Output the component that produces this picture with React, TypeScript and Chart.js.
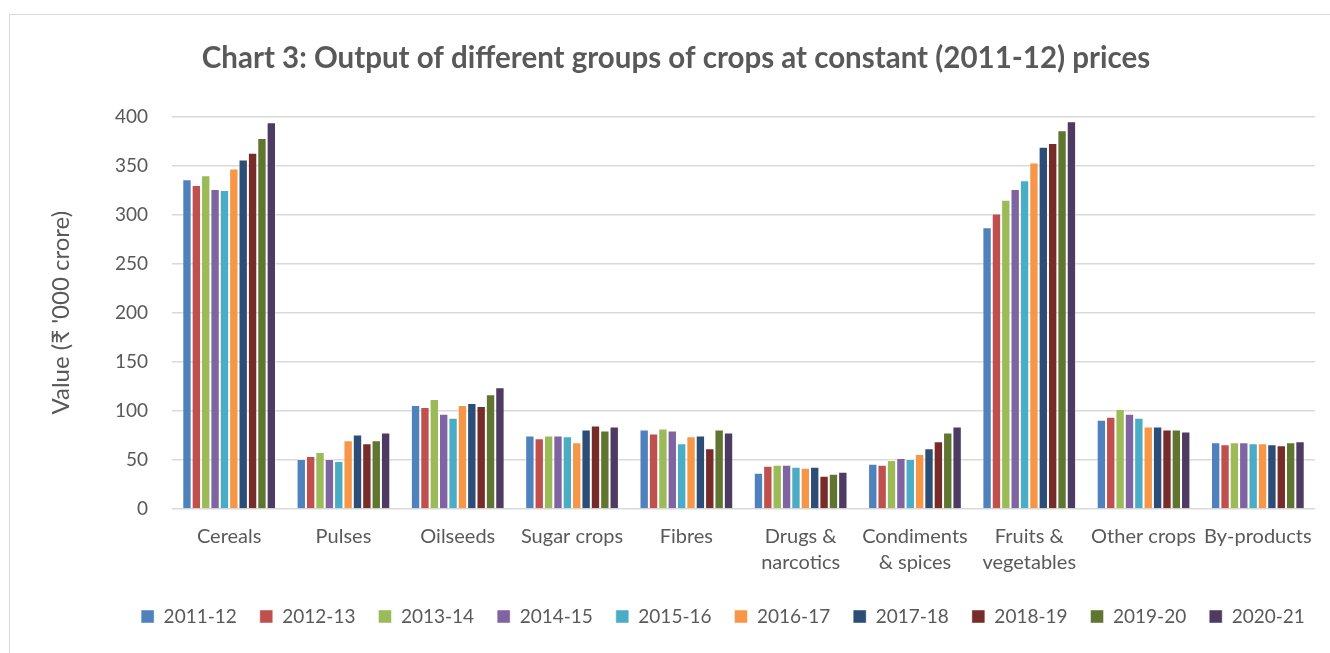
import React, { useEffect, useRef } from "react";
import { Chart, registerables } from "chart.js";

Chart.register(...registerables);

const categories: (string | string[])[] = [
  "Cereals",
  "Pulses",
  "Oilseeds",
  "Sugar crops",
  "Fibres",
  ["Drugs &", "narcotics"],
  ["Condiments", "& spices"],
  ["Fruits &", "vegetables"],
  "Other crops",
  "By-products",
];

const years = ["2011-12", "2012-13", "2013-14", "2014-15", "2015-16", "2016-17", "2017-18", "2018-19", "2019-20", "2020-21"];

const colors = ["#4F81BD", "#C0504D", "#9BBB59", "#8064A2", "#4BACC6", "#F79646", "#2C4D75", "#772C2A", "#5F7530", "#4D3B62"];

// values per year, across categories (₹ '000 crore)
const v2011 = [336, 51, 106, 75, 81, 37, 46, 287, 91, 68];
const v2012 = [330, 54, 104, 72, 77, 44, 45, 301, 94, 66];
const v2013 = [340, 58, 112, 75, 82, 45, 50, 315, 102, 68];
const v2014 = [326, 51, 97, 75, 80, 45, 52, 326, 97, 68];
const v2015 = [325, 49, 93, 74, 67, 43, 51, 335, 93, 67];
const v2016 = [347, 70, 106, 68, 74, 42, 56, 353, 84, 67];
const v2017 = [356, 76, 108, 81, 75, 43, 62, 369, 84, 66];
const v2018 = [363, 67, 105, 85, 62, 34, 69, 373, 81, 65];
const v2019 = [378, 70, 117, 80, 81, 36, 78, 386, 81, 68];
const v2020 = [394, 78, 124, 84, 78, 38, 84, 395, 79, 69];

const seriesValues = [v2011, v2012, v2013, v2014, v2015, v2016, v2017, v2018, v2019, v2020];

const yTicksMax = 400;
const yTicksStep = 50;

const FONT = "Lato, 'Open Sans', sans-serif";

const legendShift = {
  id: "legendShift",
  afterLayout(chart: any) {
    const l = chart.legend;
    if (!l) return;
    const dx = 47;
    const dy = -7;
    l.left += dx;
    l.right += dx;
    l.top += dy;
    l.bottom += dy;
  },
};

export default function App() {
  const ref = useRef<HTMLCanvasElement | null>(null);

  useEffect(() => {
    if (!ref.current) return;
    const chart = new Chart(ref.current, {
      type: "bar",
      data: {
        labels: categories,
        datasets: years.map((y, i) => ({
          label: y,
          data: seriesValues[i],
          backgroundColor: colors[i],
          borderColor: "rgba(255,255,255,0.45)",
          borderWidth: 1,
          categoryPercentage: 0.82,
          barPercentage: 1.0,
        })),
      },
      options: {
        responsive: false,
        animation: false,
        layout: { padding: { left: 27, right: 15, top: 26, bottom: 11 } },
        plugins: {
          title: {
            display: true,
            text: "Chart 3: Output of different groups of crops at constant (2011-12) prices",
            color: "#595959",
            font: { family: FONT, size: 29.5, weight: "bold" },
            padding: { top: 0, bottom: 40 },
          },
          legend: {
            position: "bottom",
            labels: {
              color: "#595959",
              font: { family: FONT, size: 19 },
              boxWidth: 13,
              boxHeight: 13,
              padding: 23,
            },
          },
          tooltip: { enabled: false },
        },
        scales: {
          x: {
            grid: { display: false, drawTicks: false },
            border: { display: false },
            ticks: {
              color: "#595959",
              font: { family: FONT, size: 20, lineHeight: 1.3 },
              padding: 15,
              maxRotation: 0,
              autoSkip: false,
            },
          },
          y: {
            min: 0,
            max: yTicksMax,
            afterFit(scale: any) {
              scale.width = 135;
            },
            ticks: {
              stepSize: yTicksStep,
              color: "#595959",
              font: { family: FONT, size: 19 },
              padding: 24,
            },
            grid: { color: "#d9d9d9", lineWidth: 1.5, drawTicks: false },
            border: { display: false },
            title: {
              display: true,
              text: "Value (₹ '000 crore)",
              color: "#595959",
              font: { family: FONT, size: 24 },
              padding: { top: 10, bottom: 0 },
            },
          },
        },
      },
      plugins: [legendShift],
    });
    return () => chart.destroy();
  }, []);

  return (
    <div style={{ position: "fixed", left: 0, top: 0, width: 1330, height: 653, overflow: "hidden", background: "#fff" }}>
      <div
        style={{
          position: "absolute",
          left: 9,
          top: 14,
          width: 1340,
          height: 660,
          border: "1px solid #d9d9d9",
          background: "#fff",
        }}
      >
        <canvas ref={ref} width={1320} height={639} style={{ display: "block" }} />
      </div>
    </div>
  );
}
